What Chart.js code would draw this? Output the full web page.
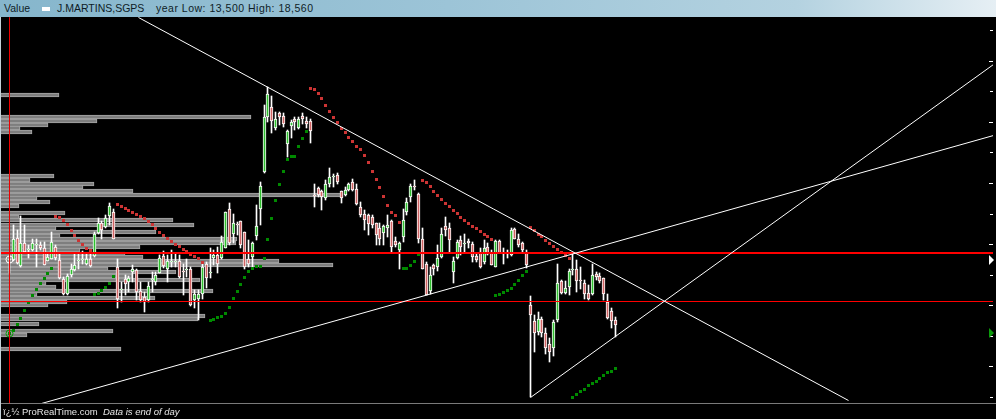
<!DOCTYPE html>
<html><head><meta charset="utf-8">
<script src="https://cdn.jsdelivr.net/npm/chart.js@4"></script>
<style>
html,body{margin:0;padding:0;background:#000;}
#wrap{position:relative;width:996px;height:419px;overflow:hidden;background:#000;}
#c{position:absolute;left:0;top:0;}
#hdr{position:absolute;left:0;top:0;width:996px;height:17px;background:linear-gradient(to right,#86b6cc 0%,#9cc4d7 45%,#b4d2e0 80%,#e6eff4 100%);font:10.5px "Liberation Sans",Arial,sans-serif;color:#0e1c26;line-height:12px;}
#hdr span{position:absolute;top:2px;white-space:nowrap;}
#hdr i{position:absolute;left:42px;top:7px;width:8px;height:4px;background:#fff;}
#ftr{position:absolute;left:0;top:404px;width:996px;height:15px;font:9.5px "Liberation Sans",Arial,sans-serif;color:#e6e6e6;line-height:12px;}
#ftr span{position:absolute;top:1.5px;white-space:nowrap;}
#fline{position:absolute;left:0;top:403px;width:996px;height:1px;background:#7a7a7a;}
#lb{position:absolute;left:0;top:17px;width:1px;height:402px;background:#c4d2da;}
</style></head>
<body><div id="wrap">
<canvas id="c" width="996" height="419"></canvas>
<div id="hdr"><span style="left:4px">Value</span><i></i><span style="left:57px">J.MARTINS,SGPS</span><span style="left:156px;letter-spacing:0.5px">year Low: 13,500 High: 18,560</span></div>
<div id="fline"></div>
<div id="ftr"><span style="left:3px">ï¿½ ProRealTime.com</span><span style="left:103px;font-style:italic">Data is end of day</span></div>
<div id="lb"></div>
</div>
<script>
// ---- candle data (daily, index 0..157) ----
const openP = [
15.74,15.74,16.10,15.64,16.01,15.91,15.90,15.98,15.98,15.93,
15.73,15.76,15.96,15.74,15.43,15.18,15.49,15.57,15.73,15.74,
15.67,15.75,15.80,16.18,16.34,16.28,16.46,16.52,15.63,15.25,
15.43,15.38,15.54,15.57,15.23,15.14,15.08,15.42,15.38,15.53,
15.80,15.60,15.70,15.71,15.72,15.55,15.57,15.60,15.08,15.11,
15.19,15.67,15.52,15.78,15.82,15.78,15.94,16.58,16.16,16.33,
16.37,16.19,15.76,15.79,16.14,16.58,17.18,18.08,18.24,17.90,
18.14,18.09,17.63,17.93,18.04,17.89,18.09,18.02,18.01,16.80,
16.91,16.87,16.76,16.98,17.09,17.13,16.86,16.80,16.88,17.02,
16.90,16.61,16.50,16.47,16.45,16.34,16.26,16.18,16.26,16.37,
16.05,15.90,16.12,16.53,16.77,16.95,16.82,16.08,15.68,15.23,
15.65,15.63,15.79,16.30,16.26,15.54,15.77,16.07,16.00,16.05,
16.00,15.80,15.86,15.70,15.95,15.85,15.63,16.05,15.85,15.83,
15.82,16.24,16.09,16.01,15.86,15.00,14.74,14.57,14.77,14.54,
14.36,14.30,14.76,15.40,15.20,15.30,15.57,15.60,15.40,15.37,
15.20,15.19,15.51,15.48,15.44,15.06,14.90,14.76];
const closeP = [
15.75,16.08,15.69,16.01,15.87,15.92,16.01,15.99,15.94,15.66,
15.79,16.04,15.77,15.44,15.18,15.48,15.59,15.66,15.74,15.75,
15.75,15.64,16.16,16.35,16.23,16.42,16.62,16.09,15.11,15.26,
15.34,15.44,15.59,15.22,15.08,15.05,15.31,15.43,15.49,15.78,
15.64,15.73,15.71,15.72,15.47,15.54,15.58,15.01,15.19,15.19,
15.63,15.44,15.53,15.82,15.67,16.03,16.52,16.01,16.35,16.32,
15.98,15.63,15.67,16.01,16.30,16.95,18.08,18.46,18.02,18.04,
18.07,17.96,17.85,17.99,17.99,18.04,18.04,17.96,17.85,16.79,
16.80,16.77,16.99,17.10,17.10,17.02,16.76,16.88,16.98,16.88,
16.65,16.47,16.39,16.33,16.31,16.15,16.09,16.30,16.31,15.96,
15.98,16.01,16.40,16.69,16.95,16.94,16.09,15.60,15.17,15.49,
15.59,15.77,16.17,16.23,16.07,15.72,16.04,15.96,16.01,16.01,
15.79,15.74,15.63,15.94,15.83,15.66,16.05,15.86,15.84,15.84,
16.23,16.08,15.98,15.90,15.66,14.84,14.54,14.77,14.54,14.30,
14.24,14.73,15.37,15.20,15.29,15.56,15.58,15.40,15.39,15.19,
15.11,15.49,15.46,15.40,15.19,14.79,14.74,14.68];
const highP = [
15.82,16.32,16.23,16.46,16.31,15.98,16.09,16.08,16.04,16.04,
15.86,16.20,15.98,15.85,15.47,15.51,15.68,15.83,15.83,15.89,
15.85,15.83,16.20,16.42,16.38,16.47,16.67,16.58,15.75,15.38,
15.49,15.48,15.66,15.60,15.38,15.22,15.38,15.55,15.55,15.82,
15.89,15.82,15.90,15.85,15.82,15.68,15.75,15.63,15.25,15.25,
15.68,15.71,15.93,15.90,15.96,16.14,16.53,16.67,16.49,16.36,
16.38,16.20,16.07,16.04,16.64,17.02,18.27,18.57,18.42,18.16,
18.16,18.15,17.86,18.03,18.07,18.08,18.14,18.08,18.04,16.99,
16.94,16.88,17.05,17.24,17.14,17.16,16.87,16.94,17.00,17.06,
16.99,16.69,16.56,16.50,16.47,16.35,16.34,16.31,16.47,16.39,
16.12,16.04,16.58,16.75,16.99,17.05,16.83,16.26,15.71,15.63,
15.68,15.98,16.27,16.45,16.34,15.79,16.07,16.14,16.17,16.09,
16.03,15.85,15.93,16.07,16.01,15.90,16.07,16.07,15.93,15.90,
16.26,16.27,16.17,16.04,15.90,15.15,14.84,14.89,14.81,14.63,
14.46,14.76,15.67,15.41,15.40,15.60,15.86,15.74,15.63,15.41,
15.33,15.68,15.54,15.52,15.45,15.19,14.95,14.81];
const lowP = [
15.53,15.72,15.68,15.63,15.85,15.77,15.89,15.63,15.90,15.65,
15.72,15.75,15.74,15.43,15.17,15.17,15.47,15.56,15.59,15.67,
15.66,15.63,15.79,16.16,16.09,16.27,16.31,16.08,14.95,15.05,
15.17,15.22,15.38,15.08,15.06,14.89,15.06,15.22,15.33,15.52,
15.61,15.38,15.63,15.62,15.45,15.17,15.47,14.98,14.95,14.76,
15.11,15.28,15.44,15.66,15.52,15.76,15.93,15.98,16.01,16.15,
15.93,15.60,15.63,15.63,16.07,16.31,17.17,18.00,17.81,17.86,
17.95,17.92,17.43,17.73,17.86,17.88,17.97,17.89,17.66,16.61,
16.77,16.56,16.72,16.94,16.94,16.99,16.67,16.79,16.87,16.87,
16.64,16.45,16.23,16.15,16.26,15.98,15.98,15.98,16.12,15.87,
15.96,15.60,16.04,16.47,16.69,16.88,16.01,15.59,15.16,15.19,
15.49,15.56,15.78,16.14,15.87,15.37,15.76,15.82,15.85,15.93,
15.71,15.71,15.61,15.68,15.82,15.65,15.62,15.85,15.68,15.77,
15.81,16.08,15.96,15.85,15.61,13.50,14.24,14.51,14.48,14.21,
14.08,14.17,14.73,15.19,15.18,15.17,15.49,15.22,15.26,15.10,
15.09,15.17,15.41,15.36,15.08,14.77,14.62,14.48];
// ---- parabolic SAR ----
const sarP = [
14.54,14.59,14.69,14.79,14.92,15.05,15.16,15.26,15.36,15.44,
15.52,15.60,16.45,16.44,16.39,16.32,16.22,16.14,16.06,16.00,
15.93,15.90,15.18,15.19,15.24,15.29,15.36,15.47,16.65,16.62,
16.58,16.55,16.52,16.49,16.45,16.42,16.37,16.32,16.26,16.19,
16.14,16.09,16.04,16.00,15.96,15.91,15.88,15.83,15.80,15.77,
15.70,null,14.75,14.77,14.80,14.82,14.87,14.97,15.11,15.23,
15.34,15.46,15.55,15.60,15.64,15.64,15.77,16.08,16.42,16.71,
16.98,17.19,17.39,17.43,17.43,17.60,17.73,17.84,18.55,18.53,
18.46,18.38,18.27,18.17,18.07,17.99,17.89,17.83,17.75,17.68,
17.60,17.55,17.45,17.34,17.19,17.06,16.93,16.78,16.63,16.52,
16.47,16.36,15.60,15.60,15.65,15.72,15.83,17.04,17.01,16.94,
16.86,16.80,16.73,16.67,16.62,16.55,16.50,16.44,16.39,16.34,
16.29,16.26,16.21,16.16,16.13,16.08,15.16,15.18,15.21,15.24,
15.28,15.34,15.41,15.49,15.55,16.27,16.22,16.16,16.13,16.06,
16.01,15.96,15.91,15.87,15.82,15.77,13.50,13.54,13.59,13.63,
13.68,13.72,13.76,13.81,13.85,13.90,13.92,13.97];
// ---- volume by price ----
const volPrice = [18.44,18.07,18.01,17.95,17.89,17.83,17.11,17.04,16.99,16.93,16.87,16.81,16.75,16.69,16.62,16.51,16.45,16.39,16.32,16.26,16.20,16.14,16.08,16.02,15.96,15.90,15.84,15.79,15.72,15.66,15.60,15.54,15.48,15.42,15.36,15.30,15.24,15.18,15.12,15.06,15.00,14.83,14.77,14.70,14.58,14.52,14.28];
const volSize = [59,251,97,48,20,32,54,30,94,83,133,343,37,50,19,65,19,173,194,56,156,60,237,236,140,80,125,143,279,333,108,176,132,200,46,56,213,37,155,67,48,205,198,39,113,27,121];
// ---- drawn lines ----
const trend1X = [33.6, 217.3], trend1Y = [19.71, 13.45];
const trend2X = [8.47, 254.84], trend2Y = [13.40, 17.77];
const trend3X = [135, 254.84], trend3Y = [13.50, 18.94];
const levelThick = 15.86, levelThin = 15.06;
const cursorIndex = 0;
const cursorMarks = [15.74, 14.54];
const tickStep = 0.5;

const xMin = -2.409, xMax = 254.84, yMin = 13.402, yMax = 19.7125;
const idx = openP.map((_, i) => i);
const GREEN = '#2fbf2f', RED = '#d06464';

const bodies = idx.map(i => ({x: i, y: [openP[i], closeP[i]]}));
const wicks = idx.map(i => ({x: i, y: [lowP[i], highP[i]]}));
const sarPts = idx.filter(i => sarP[i] !== null).map(i => ({x: i, y: sarP[i]}));
const vols = volPrice.map((p, k) => ({x: volSize[k], y: p}));
const seg = (xs, ys) => xs.map((x, k) => ({x, y: ys[k]}));

const lineDs = (data, color, width, order) => ({type: 'line', data, borderColor: color, borderWidth: width, pointRadius: 0, fill: false, order, xAxisID: 'x', yAxisID: 'y', tension: 0});

// pixel-snap the library-computed element positions for crisp, aliased marks
const snap = {
  id: 'snap',
  beforeDatasetsDraw(chart) {
    chart.getSortedVisibleDatasetMetas().forEach(meta => {
      const ds = chart.data.datasets[meta.index];
      if (meta.type === 'bar') {
        meta.data.forEach(el => {
          if (meta.xAxisID === 'xv') {
            el.y = Math.round(el.y); el.x = Math.round(el.x); el.base = Math.round(el.base);
          } else {
            el.x = Math.floor(el.x) + 0.5;
            let t = Math.round(el.y), b = Math.round(el.base);
            if (Math.abs(t - b) < 1) b = t + 1;
            el.y = t; el.base = b; el.height = Math.abs(b - t);
          }
        });
      } else if (meta.type === 'scatter') {
        meta.data.forEach(el => { el.x = Math.floor(el.x) + 0.5; el.y = Math.floor(el.y) + 0.5; });
      } else if (meta.type === 'line') {
        const w = ds.borderWidth;
        meta.data.forEach(el => {
          el.x = w % 2 ? Math.floor(el.x) + 0.5 : Math.round(el.x);
          el.y = w % 2 ? Math.floor(el.y) + 0.5 : Math.round(el.y);
        });
      }
    });
  }
};

const overlay = {
  id: 'overlay',
  afterDatasetsDraw(chart) {
    const {ctx, chartArea: a, scales: {y}} = chart;
    ctx.save();
    ctx.strokeStyle = '#ffffff'; ctx.lineWidth = 1;
    for (let v = Math.ceil(y.min / tickStep) * tickStep; v <= y.max + 1e-9; v += tickStep) {
      const py = Math.round(y.getPixelForValue(v)) + 0.5;
      const whole = Math.abs(v - Math.round(v)) < 1e-6;
      ctx.beginPath(); ctx.moveTo(a.right - (whole ? 4 : 3), py); ctx.lineTo(a.right, py); ctx.stroke();
    }
    const cols = ['#ffffff', '#0a9a0a'];
    cursorMarks.forEach((v, k) => {
      const py = Math.round(y.getPixelForValue(v));
      ctx.fillStyle = cols[k];
      ctx.beginPath(); ctx.moveTo(a.right - 4, py - 5); ctx.lineTo(a.right - 4, py + 5); ctx.lineTo(a.right + 1, py); ctx.closePath(); ctx.fill();
    });
    ctx.restore();
  }
};

new Chart(document.getElementById('c'), {
  data: {
    datasets: [
      {type: 'bar', indexAxis: 'y', data: vols, xAxisID: 'xv', yAxisID: 'y', backgroundColor: '#7e7e7e', borderColor: '#a6a6a6', borderWidth: 1, borderSkipped: false, barThickness: 4, grouped: false, order: 20},
      {type: 'bar', data: wicks, xAxisID: 'x', yAxisID: 'y', backgroundColor: '#ffffff', borderWidth: 0, barThickness: 1, grouped: false, order: 15},
      {type: 'bar', data: bodies, xAxisID: 'x', yAxisID: 'y', minBarLength: 1,
        backgroundColor: c => { const i = c.dataIndex; return closeP[i] > openP[i] ? GREEN : (closeP[i] < openP[i] ? RED : '#fff'); },
        borderColor: '#ffffff', borderWidth: 1, borderSkipped: false, barThickness: 3, grouped: false, order: 14},
      {type: 'scatter', data: sarPts, xAxisID: 'x', yAxisID: 'y', pointStyle: 'rect', pointRadius: 2.1213, pointBorderWidth: 0,
        pointBackgroundColor: c => { const i = c.raw.x; return sarP[i] > closeP[i] ? '#cc3434' : '#008a00'; }, order: 12},
      {type: 'scatter', data: [{x: cursorIndex, y: cursorMarks[0]}], xAxisID: 'x', yAxisID: 'y', pointStyle: 'circle', pointRadius: 3.5, pointBorderWidth: 1, pointBorderColor: '#ffffff', pointBackgroundColor: 'rgba(0,0,0,0)', order: 11},
      {type: 'scatter', data: [{x: cursorIndex, y: cursorMarks[1]}], xAxisID: 'x', yAxisID: 'y', pointStyle: 'circle', pointRadius: 3.5, pointBorderWidth: 1, pointBorderColor: '#0a9a0a', pointBackgroundColor: 'rgba(0,0,0,0)', order: 11},
      lineDs([{x: xMin, y: levelThick}, {x: xMax, y: levelThick}], '#ff0000', 2, 8),
      lineDs([{x: xMin, y: levelThin}, {x: xMax, y: levelThin}], '#ff0000', 1, 8),
      lineDs([{x: cursorIndex, y: yMax}, {x: cursorIndex, y: yMin}], '#ee0000', 1, 7),
      lineDs(seg(trend1X, trend1Y), '#ffffff', 1, 5),
      lineDs(seg(trend2X, trend2Y), '#ffffff', 1, 5),
      lineDs(seg(trend3X, trend3Y), '#ffffff', 1, 5)
    ]
  },
  options: {
    responsive: false, animation: false, devicePixelRatio: 1, events: [],
    layout: {autoPadding: false, padding: {top: 17, bottom: 16, left: 0, right: 3}},
    plugins: {legend: {display: false}, tooltip: {enabled: false}},
    scales: {
      x: {type: 'linear', min: xMin, max: xMax, display: false, offset: false},
      xv: {type: 'linear', min: 0, max: 993, display: false, offset: false},
      y: {type: 'linear', min: yMin, max: yMax, display: false, offset: false}
    }
  },
  plugins: [snap, overlay]
});
</script>
</body></html>
